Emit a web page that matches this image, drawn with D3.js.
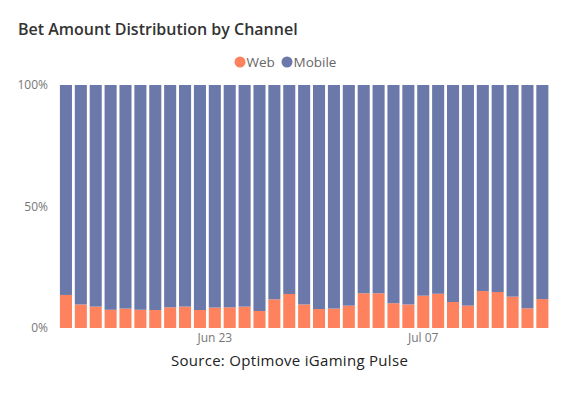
<!DOCTYPE html>
<html>
<head>
<meta charset="utf-8">
<script src="https://cdn.jsdelivr.net/npm/d3@7"></script>
<style>
  html, body { margin: 0; padding: 0; background: #fff; }
  svg { display: block; }
</style>
</head>
<body>
<svg id="chart" width="583" height="399"></svg>
<script>
const dates = ["Jun 13","Jun 14","Jun 15","Jun 16","Jun 17","Jun 18","Jun 19","Jun 20","Jun 21","Jun 22",
  "Jun 23","Jun 24","Jun 25","Jun 26","Jun 27","Jun 28","Jun 29","Jun 30","Jul 01","Jul 02",
  "Jul 03","Jul 04","Jul 05","Jul 06","Jul 07","Jul 08","Jul 09","Jul 10","Jul 11","Jul 12",
  "Jul 13","Jul 14","Jul 15"];
const webShare = [13.6, 9.7, 8.8, 7.5, 8.0, 7.5, 7.4, 8.5, 8.8, 7.4,
  8.4, 8.5, 8.8, 7.0, 11.8, 14.0, 9.7, 7.8, 8.0, 9.2,
  14.3, 14.3, 10.2, 9.7, 13.3, 14.1, 10.7, 9.2, 15.2, 14.8,
  12.9, 8.1, 11.9];
const mobileShare = [86.4, 90.3, 91.2, 92.5, 92.0, 92.5, 92.6, 91.5, 91.2, 92.6,
  91.6, 91.5, 91.2, 93.0, 88.2, 86.0, 90.3, 92.2, 92.0, 90.8,
  85.7, 85.7, 89.8, 90.3, 86.7, 85.9, 89.3, 90.8, 84.8, 85.2,
  87.1, 91.9, 88.1];
const seriesNames = ["Web", "Mobile"];
const seriesColors = ["#FE825D", "#6A79A9"];
const yTicks = [0, 50, 100];
const xTickLabels = ["Jun 23", "Jul 07"];
const titleText = "Bet Amount Distribution by Channel";
const sourceText = "Source: Optimove iGaming Pulse";

const rows = dates.map((d, i) => ({ date: d, Web: webShare[i], Mobile: mobileShare[i] }));
const stack = d3.stack().keys(seriesNames).offset(d3.stackOffsetExpand);
const layers = stack(rows);

const svg = d3.select("#chart");
const x = d3.scaleBand().domain(dates).range([58.5, 549.8]).paddingInner(0.19).paddingOuter(0.095);
const y = d3.scaleLinear().domain([0, 1]).range([328, 85]);
const color = d3.scaleOrdinal().domain(seriesNames).range(seriesColors);

// title
svg.append("text")
  .attr("x", 18).attr("y", 35)
  .attr("font-family", "'Open Sans', 'Noto Sans', sans-serif")
  .attr("font-size", 16).attr("font-weight", 600)
  .attr("fill", "#333")
  .text(titleText);

// legend
const legend = svg.append("g").attr("font-family", "'Open Sans', 'Noto Sans', sans-serif").attr("font-size", 13.5).attr("fill", "#666");
const legendPos = [240, 287];
seriesNames.forEach((s, i) => {
  legend.append("circle").attr("cx", legendPos[i]).attr("cy", 62).attr("r", 5.5).attr("fill", color(s));
  legend.append("text").attr("x", legendPos[i] + 6.5).attr("y", 66.5).text(s);
});

// bars
svg.append("g").selectAll("g").data(layers).join("g")
  .attr("fill", d => color(d.key))
  .selectAll("rect").data(d => d).join("rect")
  .attr("x", d => x(d.data.date))
  .attr("width", x.bandwidth())
  .attr("y", d => y(d[1]))
  .attr("height", d => y(d[0]) - y(d[1]));

// y axis
const yAxis = d3.axisLeft(y).tickValues(yTicks.map(v => v / 100)).tickFormat(v => Math.round(v * 100) + "%").tickSize(0).tickPadding(0);
const gy = svg.append("g").attr("transform", "translate(48,0)").call(yAxis);
gy.select(".domain").remove();
gy.selectAll("text").attr("font-family", "'Open Sans', 'Noto Sans', sans-serif").attr("font-size", 12).attr("fill", "#777");

// x axis
const xAxis = d3.axisBottom(x).tickValues(xTickLabels).tickSize(0).tickPadding(0);
const gx = svg.append("g").attr("transform", "translate(0,333)").call(xAxis);
gx.select(".domain").remove();
gx.selectAll("text").attr("font-family", "'Open Sans', 'Noto Sans', sans-serif").attr("font-size", 12).attr("fill", "#777");

// source
svg.append("text")
  .attr("x", 289.5).attr("y", 366).attr("text-anchor", "middle")
  .attr("font-family", "'Open Sans', 'Noto Sans', sans-serif")
  .attr("font-size", 15)
  .attr("letter-spacing", 0.3)
  .attr("fill", "#222")
  .text(sourceText);
</script>
</body>
</html>
